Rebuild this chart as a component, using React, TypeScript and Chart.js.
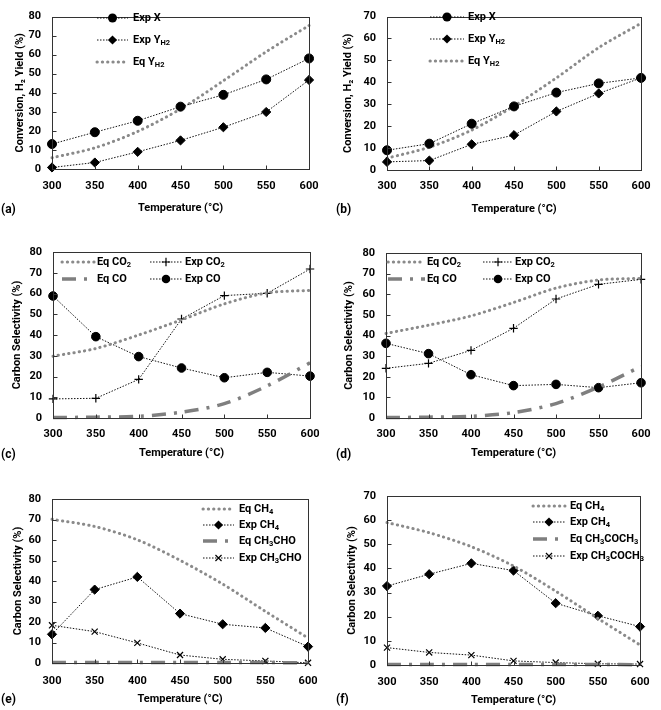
import React, { useEffect, useRef } from 'react';
import { Chart, registerables } from 'chart.js';
Chart.register(...registerables);

const FONT = 'Roboto, "Open Sans", sans-serif';

const temps = ['300', '350', '400', '450', '500', '550', '600'];

// (a)
const aExpX = [13.1, 19.3, 25.3, 32.7, 38.9, 47.0, 58.0];
const aExpYH2 = [0.8, 3.4, 9.0, 15.0, 21.9, 29.9, 46.7];
const aEqYH2 = [5.9, 11.1, 19.7, 31.5, 46.3, 61.5, 75.3];
// (b)
const bExpX = [9.0, 12.0, 21.1, 29.0, 35.3, 39.5, 42.0];
const bExpYH2 = [3.7, 4.3, 11.7, 15.9, 26.7, 34.9, 42.0];
const bEqYH2 = [5.4, 10.4, 18.2, 29.2, 42.0, 55.8, 66.9];
// (c)
const cEqCO2 = [29.8, 33.5, 40.0, 47.3, 55.0, 60.3, 61.5];
const cExpCO2 = [9.2, 9.5, 18.6, 47.7, 59.0, 60.1, 71.8];
const cEqCO = [0.2, 0.4, 0.8, 2.8, 6.9, 15.5, 26.6];
const cExpCO = [58.8, 39.2, 29.6, 24.1, 19.4, 22.0, 20.2];
// (d)
const dEqCO2 = [41.0, 45.0, 49.5, 56.0, 63.0, 66.9, 67.7];
const dExpCO2 = [24.1, 26.5, 32.8, 43.5, 57.7, 64.8, 67.2];
const dEqCO = [0.2, 0.4, 0.8, 2.6, 7.0, 15.0, 25.0];
const dExpCO = [36.2, 31.2, 21.0, 15.7, 16.3, 14.7, 17.1];
// (e)
const eEqCH4 = [70.1, 66.6, 60.1, 50.1, 38.5, 25.2, 12.2];
const eExpCH4 = [14.0, 35.8, 42.0, 24.1, 18.9, 17.1, 8.0];
const eEqCH3CHO = [0.2, 0.2, 0.2, 0.2, 0.2, 0.2, 0.1];
const eExpCH3CHO = [18.4, 15.3, 9.8, 3.9, 1.8, 1.0, 0.1];
// (f)
const fEqCH4 = [59.0, 54.8, 49.0, 41.0, 30.6, 19.3, 8.3];
const fExpCH4 = [32.7, 37.6, 42.1, 39.1, 25.6, 20.4, 15.9];
const fEqCH3COCH3 = [0.2, 0.2, 0.2, 0.2, 0.2, 0.2, 0.1];
const fExpCH3COCH3 = [7.2, 5.2, 4.1, 1.7, 1.0, 0.5, 0.4];

const EXP_COLOR = '#111111';
const EQ_COLOR = '#8a8a8a';

function expLine(label: string, data: number[], pointStyle: string, radius: number) {
  return {
    label, data, pointStyle, pointRadius: radius,
    borderColor: EXP_COLOR, borderWidth: 1, borderDash: [1.5, 1.5], borderCapStyle: 'butt',
    pointBackgroundColor: '#000', pointBorderColor: '#000',
    pointBorderWidth: pointStyle === 'cross' || pointStyle === 'crossRot' ? 1.2 : 1,
    tension: 0, clip: false, fill: false,
  };
}
function eqDot(label: string, data: number[]) {
  return {
    label, data, pointRadius: 0, pointStyle: 'none',
    borderColor: EQ_COLOR, borderWidth: 3, borderDash: [0.3, 5], borderCapStyle: 'round',
    tension: 0.3, clip: false, fill: false,
  };
}
function eqDashDot(label: string, data: number[]) {
  return {
    label, data, pointRadius: 0, pointStyle: 'none',
    borderColor: '#7f7f7f', borderWidth: 3.5, borderDash: [14, 8, 3, 8], borderCapStyle: 'butt',
    tension: 0.3, clip: false, fill: false,
  };
}

const X_TITLE = 'Temperature (°C)';
const Y_TITLE_AB = 'Conversion, H₂ Yield (%)';
const Y_TITLE_SEL = 'Carbon Selectivity (%)';

const panels = [
  {
    tag: '(a)', tagX: 1, tagY: 210,
    left: 0, top: 0, w: 330, h: 235, area: { l: 52, r: 313, t: 6, b: 169 },
    yMax: 80, yTitle: Y_TITLE_AB, yTitleCx: 20, xTickGap: 17, xTitleCy: 208,
    legend: { rows: [18, 40, 62], cols: [{ x0: 97, x1: 128, tx: 133 }] },
    datasets: [expLine('Exp X', aExpX, 'circle', 4.5), expLine('Exp Y_H₂', aExpYH2, 'rectRot', 4.6), eqDot('Eq Y_H₂', aEqYH2)],
  },
  {
    tag: '(b)', tagX: 336, tagY: 210,
    left: 330, top: 0, w: 331, h: 235, area: { l: 57, r: 319, t: 6, b: 170 },
    yMax: 70, yTitle: Y_TITLE_AB, yTitleCx: 18, xTickGap: 16, xTitleCy: 209,
    legend: { rows: [17, 39, 61], cols: [{ x0: 100, x1: 134, tx: 138 }] },
    datasets: [expLine('Exp X', bExpX, 'circle', 4.5), expLine('Exp Y_H₂', bExpYH2, 'rectRot', 4.6), eqDot('Eq Y_H₂', bEqYH2)],
  },
  {
    tag: '(c)', tagX: 1, tagY: 455,
    left: 0, top: 235, w: 330, h: 235, area: { l: 53, r: 312, t: 17, b: 183 },
    yMax: 80, yTitle: Y_TITLE_SEL, yTitleCx: 17, xTickGap: 16, xTitleCy: 218,
    legend: { rows: [27, 44], cols: [{ x0: 62, x1: 95, tx: 97 }, { x0: 150, x1: 182, tx: 185 }] },
    datasets: [eqDot('Eq CO₂', cEqCO2), expLine('Exp CO₂', cExpCO2, 'cross', 4.2), eqDashDot('Eq CO', cEqCO), expLine('Exp CO', cExpCO, 'circle', 4.3)],
  },
  {
    tag: '(d)', tagX: 336, tagY: 455,
    left: 330, top: 235, w: 331, h: 235, area: { l: 56, r: 320, t: 18, b: 183 },
    yMax: 80, yTitle: Y_TITLE_SEL, yTitleCx: 19, xTickGap: 16, xTitleCy: 218,
    legend: { rows: [27, 44], cols: [{ x0: 58, x1: 95, tx: 97 }, { x0: 153, x1: 183, tx: 185 }] },
    datasets: [eqDot('Eq CO₂', dEqCO2), expLine('Exp CO₂', dExpCO2, 'cross', 4.2), eqDashDot('Eq CO', dEqCO), expLine('Exp CO', dExpCO, 'circle', 4.3)],
  },
  {
    tag: '(e)', tagX: 1, tagY: 700,
    left: 0, top: 470, w: 330, h: 240, area: { l: 52, r: 312, t: 29, b: 193 },
    yMax: 80, yTitle: Y_TITLE_SEL, yTitleCx: 18, xTickGap: 18, xTitleCy: 229,
    legend: { rows: [39, 55, 71, 88], cols: [{ x0: 203, x1: 234, tx: 239 }] },
    datasets: [eqDot('Eq CH₄', eEqCH4), expLine('Exp CH₄', eExpCH4, 'rectRot', 4.6), eqDashDot('Eq CH₃CHO', eEqCH3CHO), expLine('Exp CH₃CHO', eExpCH3CHO, 'crossRot', 4.3)],
  },
  {
    tag: '(f)', tagX: 336, tagY: 700,
    left: 330, top: 470, w: 331, h: 240, area: { l: 57, r: 319, t: 26, b: 195 },
    yMax: 70, yTitle: Y_TITLE_SEL, yTitleCx: 22, xTickGap: 17, xTitleCy: 230,
    legend: { rows: [36, 52, 69, 86], cols: [{ x0: 203, x1: 235, tx: 240 }] },
    datasets: [eqDot('Eq CH₄', fEqCH4), expLine('Exp CH₄', fExpCH4, 'rectRot', 4.6), eqDashDot('Eq CH₃COCH₃', fEqCH3COCH3), expLine('Exp CH₃COCH₃', fExpCH3COCH3, 'crossRot', 4.3)],
  },
];

const SUBS = '₀₁₂₃₄₅₆₇₈₉';
type Seg = { t: string; sub: boolean };
function parseRich(text: string): Seg[] {
  const segs: Seg[] = [];
  let cur = '';
  let curSub = false;
  let subRun = false;
  const flush = () => { if (cur) segs.push({ t: cur, sub: curSub }); cur = ''; };
  for (const ch of text) {
    if (ch === '_') { subRun = true; continue; }
    if (ch === ' ') subRun = false;
    const idx = SUBS.indexOf(ch);
    const isSub = subRun || idx >= 0;
    const c = idx >= 0 ? String(idx) : ch;
    if (isSub !== curSub) { flush(); curSub = isSub; }
    cur += c;
  }
  flush();
  return segs;
}

function drawMarker(ctx: CanvasRenderingContext2D, style: string, x: number, y: number, r: number) {
  ctx.save();
  ctx.fillStyle = '#000';
  ctx.strokeStyle = '#000';
  ctx.setLineDash([]);
  ctx.lineCap = 'butt';
  ctx.beginPath();
  if (style === 'circle') {
    ctx.arc(x, y, r, 0, Math.PI * 2);
    ctx.fill();
  } else if (style === 'rectRot') {
    ctx.moveTo(x, y - r); ctx.lineTo(x + r, y); ctx.lineTo(x, y + r); ctx.lineTo(x - r, y); ctx.closePath();
    ctx.fill();
  } else if (style === 'cross') {
    ctx.lineWidth = 1.2;
    ctx.moveTo(x - r, y); ctx.lineTo(x + r, y); ctx.moveTo(x, y - r); ctx.lineTo(x, y + r);
    ctx.stroke();
  } else if (style === 'crossRot') {
    const d = r * Math.SQRT1_2;
    ctx.lineWidth = 1.2;
    ctx.moveTo(x - d, y - d); ctx.lineTo(x + d, y + d); ctx.moveTo(x + d, y - d); ctx.lineTo(x - d, y + d);
    ctx.stroke();
  }
  ctx.restore();
}

const decorPlugin = {
  id: 'panelDecor',
  afterDraw(chart: any) {
    const opts = chart.options.plugins.panelDecor;
    if (!opts) return;
    const { ctx, chartArea: ca } = chart;
    ctx.save();
    const L = Math.round(ca.left) + 0.5;
    const R = Math.round(ca.right) + 0.5;
    const T = Math.round(ca.top) + 0.5;
    const B = Math.round(ca.bottom) + 0.5;
    ctx.strokeStyle = '#333';
    ctx.lineWidth = 1;
    ctx.setLineDash([]);
    ctx.lineCap = 'butt';
    ctx.strokeRect(L, T, R - L, B - T);
    const xs = chart.scales.x;
    const ys = chart.scales.y;
    ctx.beginPath();
    xs.ticks.forEach((_t: any, i: number) => {
      const px = Math.round(xs.getPixelForTick(i)) + 0.5;
      ctx.moveTo(px, B); ctx.lineTo(px, B - 4);
    });
    ys.ticks.forEach((_t: any, i: number) => {
      const py = Math.round(ys.getPixelForTick(i)) + 0.5;
      ctx.moveTo(L, py); ctx.lineTo(L + 4, py);
    });
    ctx.stroke();

    // legend
    const lg = opts.legend;
    const nCols = lg.cols.length;
    chart.data.datasets.forEach((ds: any, i: number) => {
      const col = lg.cols[i % nCols];
      const y = lg.rows[Math.floor(i / nCols)];
      ctx.save();
      ctx.strokeStyle = ds.borderColor;
      ctx.lineWidth = ds.borderWidth;
      ctx.lineCap = ds.borderCapStyle || 'butt';
      ctx.setLineDash(ds.borderDash || []);
      ctx.beginPath();
      ctx.moveTo(col.x0, y);
      ctx.lineTo(col.x1, y);
      ctx.stroke();
      ctx.restore();
      if (ds.pointRadius > 0) drawMarker(ctx, ds.pointStyle, (col.x0 + col.x1) / 2, y, ds.pointRadius);
      ctx.fillStyle = '#000';
      ctx.textBaseline = 'middle';
      ctx.textAlign = 'left';
      let cx = col.tx;
      for (const s of parseRich(ds.label)) {
        ctx.font = s.sub ? `bold 7.5px ${FONT}` : `bold 11px ${FONT}`;
        ctx.fillText(s.t, cx, s.sub ? y + 3 : y);
        cx += ctx.measureText(s.t).width;
      }
    });
    ctx.restore();
  },
};

function Panel({ cfg }: { cfg: any }) {
  const ref = useRef<HTMLCanvasElement>(null);
  useEffect(() => {
    const { w, h, area } = cfg;
    const tickFont = { family: FONT, size: 11, weight: 'bold' as const, lineHeight: 1 };
    const chart = new Chart(ref.current as HTMLCanvasElement, {
      type: 'line',
      data: { labels: temps, datasets: cfg.datasets },
      plugins: [decorPlugin],
      options: {
        responsive: false,
        animation: false,
        events: [],
        layout: { padding: { left: 0, top: area.t, right: w - area.r, bottom: 0 } },
        plugins: {
          legend: { display: false },
          tooltip: { enabled: false },
          panelDecor: { legend: cfg.legend },
        } as any,
        scales: {
          x: {
            type: 'category',
            offset: false,
            grid: { display: false, drawTicks: false },
            border: { display: false },
            ticks: { color: '#000', font: tickFont, padding: cfg.xTickGap - 5.5, maxRotation: 0, autoSkip: false },
            title: {
              display: true, text: X_TITLE, color: '#000', font: tickFont,
              padding: { top: 0, bottom: h - cfg.xTitleCy - 5.5 },
            },
            afterFit: (s: any) => { s.height = h - area.b; },
          },
          y: {
            type: 'linear',
            min: 0,
            max: cfg.yMax,
            grid: { display: false, drawTicks: false },
            border: { display: false },
            ticks: { color: '#000', font: tickFont, padding: 11, stepSize: 10 },
            title: {
              display: true, text: cfg.yTitle, color: '#000', font: tickFont,
              padding: { top: cfg.yTitleCx - 5.5, bottom: 0 },
            },
            afterFit: (s: any) => { s.width = area.l; },
          },
        },
      } as any,
    });
    return () => chart.destroy();
  }, []);
  return (
    <div style={{ position: 'absolute', left: cfg.left, top: cfg.top, width: cfg.w, height: cfg.h }}>
      <canvas ref={ref} width={cfg.w} height={cfg.h} style={{ width: cfg.w, height: cfg.h, display: 'block' }} />
    </div>
  );
}

export default function App() {
  return (
    <div style={{ position: 'absolute', left: 0, top: 0, width: 661, height: 710, background: '#fff', fontFamily: FONT }}>
      {panels.map((p) => (
        <React.Fragment key={p.tag}>
          <Panel cfg={p} />
          <div style={{ position: 'absolute', left: p.tagX, top: p.tagY - 8, height: 16, lineHeight: '16px', font: `bold 12px ${FONT}`, color: '#000' }}>
            {p.tag}
          </div>
        </React.Fragment>
      ))}
    </div>
  );
}
